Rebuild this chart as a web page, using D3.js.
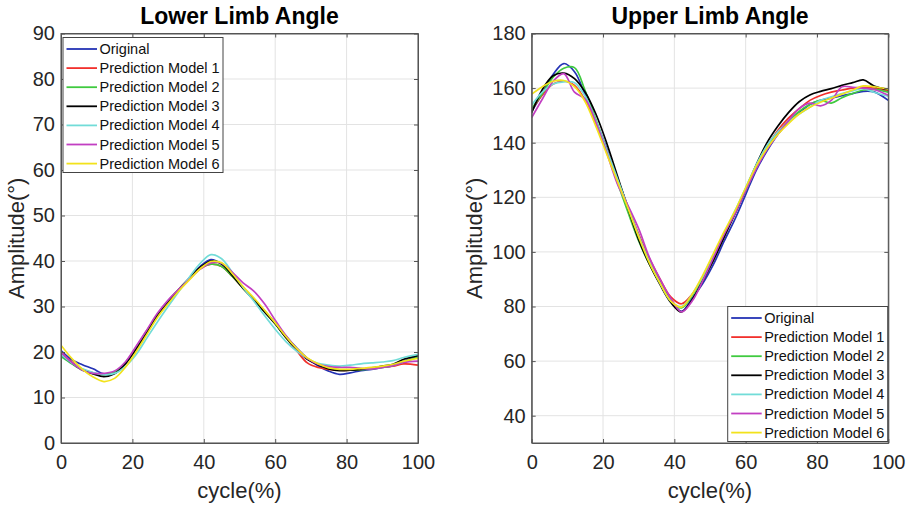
<!DOCTYPE html>
<html>
<head>
<meta charset="utf-8">
<script src="https://cdn.jsdelivr.net/npm/d3@7"></script>
<style>
  body { margin: 0; background: #fff; }
  svg { display: block; font-family: "Liberation Sans", Arial, sans-serif; }
</style>
</head>
<body>
<svg id="chart" width="910" height="509"></svg>
<script>
// shared sample positions along the gait cycle (%)
const cycle = [0,3,6,9,12,15,18,21,24,27,30,33,36,39,42,45,48,51,54,57,60,63,66,69,72,75,78,81,84,87,90,93,96,100];

const seriesNames = ["Original", "Prediction Model 1", "Prediction Model 2", "Prediction Model 3",
                     "Prediction Model 4", "Prediction Model 5", "Prediction Model 6"];
const seriesColors = ["#2433b5", "#f2302c", "#3fca3f", "#000000", "#72dcd8", "#c23fc2", "#f2e21c"];

// Lower limb angle (deg)
const lowerOriginal = [20.3,18.3,17.2,16.3,15.2,15.6,17.4,20.6,24.1,27.9,31.0,33.8,36.3,38.8,40.3,39.3,36.8,34.2,31.6,29.0,26.4,23.5,20.9,18.6,17.0,15.8,15.1,15.4,15.9,16.2,16.6,17.0,18.0,19.1];
const lowerModel1 = [20.0,17.8,16.2,15.4,15.0,15.5,17.6,21.0,24.6,28.2,31.2,33.8,36.2,38.3,39.3,38.8,36.6,34.0,31.6,29.0,26.3,23.2,20.3,17.6,16.6,16.2,16.0,16.0,16.2,16.4,16.7,16.9,17.4,17.1];
const lowerModel2 = [19.0,17.4,16.0,15.3,15.0,15.6,17.6,20.8,24.3,28.0,31.2,33.8,36.2,38.4,39.3,38.8,36.6,34.0,31.5,28.9,26.2,23.2,20.6,18.6,17.3,16.5,16.1,16.0,16.1,16.3,16.6,17.0,17.8,18.9];
const lowerModel3 = [19.5,17.6,16.1,15.2,14.6,15.2,17.4,20.6,24.2,28.0,31.0,33.6,36.2,38.6,40.0,39.4,36.8,34.0,31.5,28.8,26.2,23.2,20.6,18.4,17.2,16.3,15.9,16.0,16.2,16.5,16.9,17.3,18.4,19.2];
const lowerModel4 = [19.5,17.6,16.3,15.5,15.0,15.3,16.8,19.4,23.0,26.6,30.0,33.3,36.5,39.5,41.4,40.5,37.5,34.2,31.2,28.0,25.0,22.3,20.2,18.6,17.5,17.1,16.9,17.1,17.4,17.6,17.8,18.1,18.8,19.5];
const lowerModel5 = [20.0,17.7,16.0,15.3,15.3,15.8,17.8,21.2,24.8,28.5,31.4,33.8,36.0,38.2,39.6,39.5,37.5,35.2,33.4,30.6,27.0,23.6,20.8,18.6,17.3,16.8,16.6,16.6,16.4,16.3,16.6,17.0,17.7,18.0];
const lowerModel6 = [21.5,18.6,16.2,14.5,13.5,14.2,16.6,20.0,23.8,27.6,30.6,33.4,35.9,38.3,39.9,39.6,37.2,34.4,31.9,29.2,26.4,23.4,20.8,18.7,17.4,16.5,16.2,16.2,16.4,16.6,16.9,17.3,18.0,18.6];

// Upper limb angle (deg)
const upperOriginal = [151.5,158,165,169,166,157.5,148,138,127,116.5,106,97,89.5,82.5,78.2,83,88.5,95.5,104,112,121,130,137,143,147.5,151,154,155.5,156.3,157.2,158,158.8,158.6,155.5];
const upperModel1 = [152,157.5,161.5,162.5,161,155.5,147,137.5,127,116.5,106.5,97.5,90,83.5,81,84.5,90.5,98,106,114,122.5,131,138.5,144.5,149,152.5,155.5,157.3,158.5,159.3,160,160.3,160,159];
const upperModel2 = [152.5,158,164,167.3,167.5,159,148.5,137,125.5,114.5,104,95.5,88.5,82,79.5,84,90.5,98.5,106.5,114.5,122.5,131,138,143.5,148,151.5,154,155.5,154.5,156.5,158,159.3,159.5,158.5];
const upperModel3 = [151,159.5,164.5,165.5,163.5,158.5,150.5,140,128,116,104.5,95.5,88,81.5,78,82.5,89.5,97,105.5,114,123,132,140,146,151,155,157.5,158.8,159.8,161,162,163,160.8,159.5];
const upperModel4 = [153.8,158.5,161.5,162.3,162,157,148,137.5,127,116.5,106,96.5,88.5,82,80,84.5,91,99,107,115,123.5,132,139,144,147.5,150.5,153,155.5,156.8,158,159,159.8,158.5,157];
const upperModel5 = [149.2,156,162.5,165.3,158.5,156,147.5,136.5,125,117,108.5,98,90,83,78,82,89.5,98,106.5,114,122.5,130.5,137.5,143,148,152.5,154.5,153.5,155.5,160.5,160.3,160,159.5,157.4];
const upperModel6 = [157.8,160.5,162.5,162.8,160.5,155,146,136,126,116,105.5,96,88.5,82,79.8,84.5,91.5,99.5,107.5,115,123.5,131.5,138,143,147,150.5,153,154.8,156.3,157.8,159.3,160.8,160.5,159.6];

const xTicks = [0, 20, 40, 60, 80, 100];
const lowerYTicks = [0, 10, 20, 30, 40, 50, 60, 70, 80, 90];
const upperYTicks = [40, 60, 80, 100, 120, 140, 160, 180];

const svg = d3.select("#chart");

function drawPanel(opts) {
    const { left, top, width, height, yDomain, yTicks, title, series, legendAt } = opts;

    const x = d3.scaleLinear().domain([0, 100]).range([left, left + width]);
    const y = d3.scaleLinear().domain(yDomain).range([top + height, top]);

    const g = svg.append("g");

    // grid
    g.append("g").selectAll("line").data(xTicks).join("line")
        .attr("x1", d => x(d)).attr("x2", d => x(d))
        .attr("y1", top).attr("y2", top + height)
        .attr("stroke", "#e3e3e3").attr("stroke-width", 1);
    g.append("g").selectAll("line").data(yTicks).join("line")
        .attr("x1", left).attr("x2", left + width)
        .attr("y1", d => y(d)).attr("y2", d => y(d))
        .attr("stroke", "#e3e3e3").attr("stroke-width", 1);

    // curves
    const line = d3.line()
        .x((d, i) => x(cycle[i]))
        .y(d => y(d))
        .curve(d3.curveCatmullRom.alpha(0.5));

    const clipId = "clip-" + title.replace(/\s/g, "");
    svg.append("clipPath").attr("id", clipId)
        .append("rect").attr("x", left).attr("y", top).attr("width", width).attr("height", height);

    g.append("g").attr("clip-path", `url(#${clipId})`)
        .selectAll("path").data(series).join("path")
        .attr("fill", "none")
        .attr("stroke", (d, i) => seriesColors[i])
        .attr("stroke-width", 1.7)
        .attr("d", d => line(d));

    // axes (ticks inside, box around)
    const axisColor = "#555";
    const bottom = g.append("g").attr("transform", `translate(0,${top + height})`)
        .call(d3.axisBottom(x).tickValues(xTicks).tickSizeInner(-4).tickSizeOuter(0).tickPadding(12));
    g.append("g").attr("transform", `translate(${left},0)`)
        .call(d3.axisLeft(y).tickValues(yTicks).tickSizeInner(-4).tickSizeOuter(0).tickPadding(6));
    g.append("g").attr("transform", `translate(0,${top})`)
        .call(d3.axisTop(x).tickValues(xTicks).tickSizeInner(-4).tickSizeOuter(0).tickFormat(""));
    g.append("g").attr("transform", `translate(${left + width},0)`)
        .call(d3.axisRight(y).tickValues(yTicks).tickSizeInner(-4).tickSizeOuter(0).tickFormat(""));

    g.selectAll(".domain").attr("stroke", axisColor);
    g.selectAll(".tick line").attr("stroke", axisColor);
    g.selectAll(".tick text").attr("fill", "#262626").style("font-size", "20px")
        .style("font-family", "'Liberation Sans', Arial, sans-serif");
    bottom.selectAll(".tick text").attr("dy", "0.71em");

    g.append("rect")
        .attr("x", left).attr("y", top).attr("width", width).attr("height", height)
        .attr("fill", "none").attr("stroke", axisColor).attr("stroke-width", 1);

    // title and labels
    g.append("text")
        .attr("x", left + width / 2).attr("y", 24)
        .attr("text-anchor", "middle")
        .style("font-size", "23px").style("font-weight", "bold")
        .text(title);

    g.append("text")
        .attr("x", left + width / 2).attr("y", 498)
        .attr("text-anchor", "middle")
        .attr("fill", "#262626")
        .style("font-size", "22px")
        .text("cycle(%)");

    g.append("text")
        .attr("transform", `translate(${opts.yLabelX},${top + height / 2}) rotate(-90)`)
        .attr("text-anchor", "middle")
        .attr("fill", "#262626")
        .style("font-size", "22px")
        .text("Amplitude(°)");

    // legend
    const lg = g.append("g").attr("transform", `translate(${legendAt[0]},${legendAt[1]})`);
    lg.append("rect")
        .attr("width", 160).attr("height", 135)
        .attr("fill", "#fff").attr("stroke", "#444").attr("stroke-width", 1);
    const rows = lg.selectAll("g.row").data(seriesNames).join("g")
        .attr("class", "row")
        .attr("transform", (d, i) => `translate(0,${11.5 + i * 19.1})`);
    rows.append("line")
        .attr("x1", 3.5).attr("x2", 34)
        .attr("stroke", (d, i) => seriesColors[i]).attr("stroke-width", 1.8);
    rows.append("text")
        .attr("x", 36.5).attr("dy", "0.35em")
        .style("font-size", "14.5px")
        .attr("fill", "#111")
        .text(d => d);
}

drawPanel({
    left: 61, top: 33.5, width: 357, height: 409.5,
    yDomain: [0, 90], yTicks: lowerYTicks,
    title: "Lower Limb Angle",
    series: [lowerOriginal, lowerModel1, lowerModel2, lowerModel3, lowerModel4, lowerModel5, lowerModel6],
    legendAt: [63, 37.5],
    yLabelX: 24
});

drawPanel({
    left: 531.7, top: 33.5, width: 356.6, height: 409.5,
    yDomain: [30, 180], yTicks: upperYTicks,
    title: "Upper Limb Angle",
    series: [upperOriginal, upperModel1, upperModel2, upperModel3, upperModel4, upperModel5, upperModel6],
    legendAt: [727.7, 306.5],
    yLabelX: 482
});
</script>
</body>
</html>
